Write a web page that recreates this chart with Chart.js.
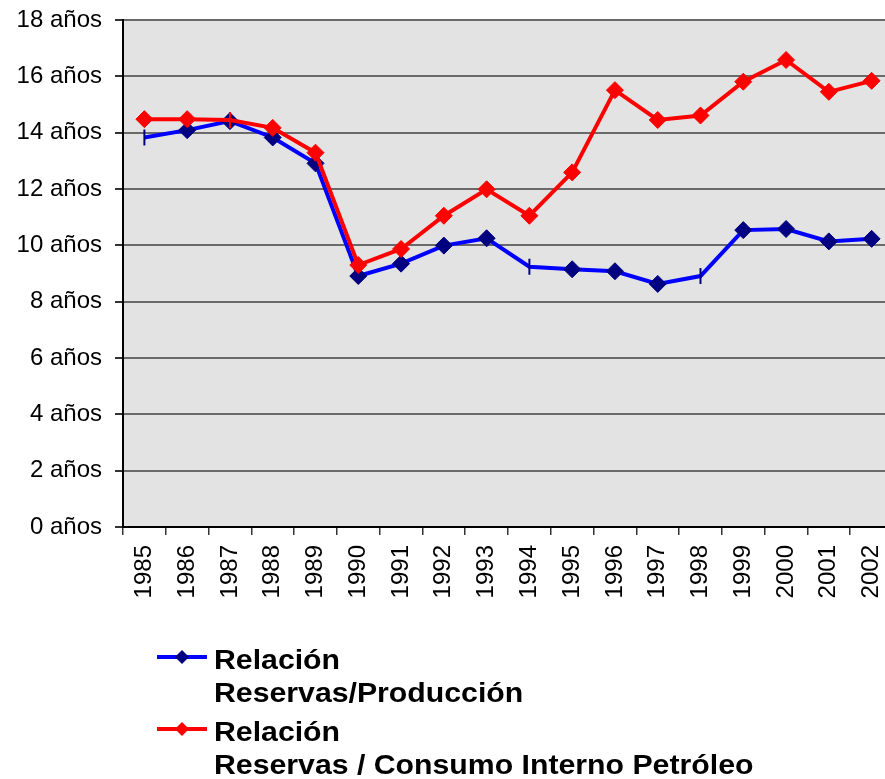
<!DOCTYPE html>
<html>
<head>
<meta charset="utf-8">
<script src="https://cdn.jsdelivr.net/npm/chart.js@4.4.1/dist/chart.umd.min.js"></script>
<style>
  html, body { margin: 0; padding: 0; background: #ffffff; overflow: hidden; }
  #wrap { position: relative; width: 903px; height: 779px; }
  #c { display: block; width: 903px; height: 779px; }
</style>
</head>
<body>
<div id="wrap"><canvas id="c" width="903" height="779"></canvas></div>
<script>
// ---- data ----
const years = ['1985','1986','1987','1988','1989','1990','1991','1992','1993','1994','1995','1996','1997','1998','1999','2000','2001','2002'];
const reservasProduccion = [13.83, 14.09, 14.41, 13.83, 12.91, 8.91, 9.35, 9.99, 10.25, 9.24, 9.15, 9.08, 8.63, 8.91, 10.54, 10.58, 10.14, 10.23];
const reservasConsumo = [14.48, 14.48, 14.45, 14.17, 13.29, 9.30, 9.87, 11.05, 11.99, 11.05, 12.59, 15.51, 14.45, 14.61, 15.81, 16.58, 15.45, 15.84];
const yTicks = [0, 2, 4, 6, 8, 10, 12, 14, 16, 18];
const yUnit = ' años';
const legendLines = [
  ['Relación', 'Reservas/Producción'],
  ['Relación', 'Reservas / Consumo Interno Petróleo']
];
// marker shapes as they appear in the original (some points show a vertical dash)
const bluePointStyles = ['line','rectRot','rectRot','rectRot','rectRot','rectRot','rectRot','rectRot','rectRot','line','rectRot','rectRot','rectRot','line','rectRot','rectRot','rectRot','rectRot'];
const redPointStyles  = ['rectRot','rectRot','line','rectRot','rectRot','rectRot','rectRot','rectRot','rectRot','rectRot','rectRot','rectRot','rectRot','rectRot','rectRot','rectRot','rectRot','rectRot'];

const FONT = "'Liberation Sans', Arial, sans-serif";

const plotBg = {
  id: 'plotBg',
  beforeDraw(chart) {
    const { ctx, chartArea: a } = chart;
    ctx.save();
    ctx.fillStyle = '#e3e3e3';
    ctx.fillRect(a.left, a.top, a.right - a.left, a.bottom - a.top);
    ctx.restore();
  }
};

const customLegend = {
  id: 'customLegend',
  afterDraw(chart) {
    const ctx = chart.ctx;
    const blocks = [{ y: 657 }, { y: 729 }];
    chart.data.datasets.forEach((ds, i) => {
      const lineY = blocks[i].y;
      ctx.save();
      ctx.strokeStyle = ds.borderColor;
      ctx.lineWidth = 4;
      ctx.beginPath();
      ctx.moveTo(157, lineY);
      ctx.lineTo(207, lineY);
      ctx.stroke();
      // diamond
      const cx = 182, r = 7;
      ctx.fillStyle = ds.pointBackgroundColor;
      ctx.beginPath();
      ctx.moveTo(cx, lineY - r);
      ctx.lineTo(cx + r, lineY);
      ctx.lineTo(cx, lineY + r);
      ctx.lineTo(cx - r, lineY);
      ctx.closePath();
      ctx.fill();
      // text
      ctx.fillStyle = '#000000';
      ctx.font = 'bold 27px ' + FONT;
      ctx.textBaseline = 'alphabetic';
      ctx.textAlign = 'left';
      legendLines[i].forEach((t, k) => {
        ctx.save();
        ctx.translate(214, lineY + 12 + k * 33);
        ctx.scale(1.12, 1);
        ctx.fillText(t, 0, 0);
        ctx.restore();
      });
      ctx.restore();
    });
  }
};

new Chart(document.getElementById('c'), {
  type: 'line',
  data: {
    labels: years,
    datasets: [
      {
        label: legendLines[0].join(' '),
        data: reservasProduccion,
        borderColor: '#0000ff',
        borderWidth: 4,
        pointStyle: bluePointStyles,
        pointRotation: bluePointStyles.map(s => s === 'line' ? 90 : 0),
        pointRadius: bluePointStyles.map(s => s === 'line' ? 8 : 8.5),
        pointBorderWidth: bluePointStyles.map(s => s === 'line' ? 2 : 1),
        pointBackgroundColor: '#000080',
        pointBorderColor: '#000080',
        tension: 0,
        order: 1
      },
      {
        label: legendLines[1].join(' '),
        data: reservasConsumo,
        borderColor: '#ff0000',
        borderWidth: 4,
        pointStyle: redPointStyles,
        pointRotation: redPointStyles.map(s => s === 'line' ? 90 : 0),
        pointRadius: redPointStyles.map(s => s === 'line' ? 8 : 8.5),
        pointBorderWidth: redPointStyles.map(s => s === 'line' ? 2 : 1),
        pointBackgroundColor: '#ff0000',
        pointBorderColor: '#ff0000',
        tension: 0,
        order: 0
      }
    ]
  },
  options: {
    responsive: false,
    animation: false,
    layout: { padding: { top: 20, left: 0, right: 0, bottom: 0 } },
    plugins: {
      legend: { display: false },
      tooltip: { enabled: false }
    },
    scales: {
      x: {
        offset: true,
        grid: {
          offset: true,
          drawOnChartArea: false,
          drawTicks: true,
          tickLength: 8,
          tickColor: '#333333',
          lineWidth: 1.5
        },
        border: { display: true, color: '#000000', width: 2 },
        ticks: {
          minRotation: 90,
          maxRotation: 90,
          autoSkip: false,
          padding: 10,
          color: '#000000',
          font: { family: FONT, size: 24 }
        },
        afterFit(scale) {
          scale.height = 252;
          scale.paddingLeft = 0;
          scale.paddingRight = 0;
        }
      },
      y: {
        min: yTicks[0],
        max: yTicks[yTicks.length - 1],
        afterBuildTicks(scale) { scale.ticks = yTicks.map(v => ({ value: v })); },
        grid: {
          color: '#6a6a6a',
          lineWidth: 2,
          tickLength: 8,
          tickColor: '#333333'
        },
        border: { display: true, color: '#000000', width: 2 },
        ticks: {
          padding: 13,
          color: '#000000',
          font: { family: FONT, size: 24 },
          callback: (v) => v + yUnit
        },
        afterFit(scale) {
          scale.width = 123;
          scale.paddingTop = 0;
          scale.paddingBottom = 0;
        }
      }
    }
  },
  plugins: [plotBg, customLegend]
});
</script>
</body>
</html>
